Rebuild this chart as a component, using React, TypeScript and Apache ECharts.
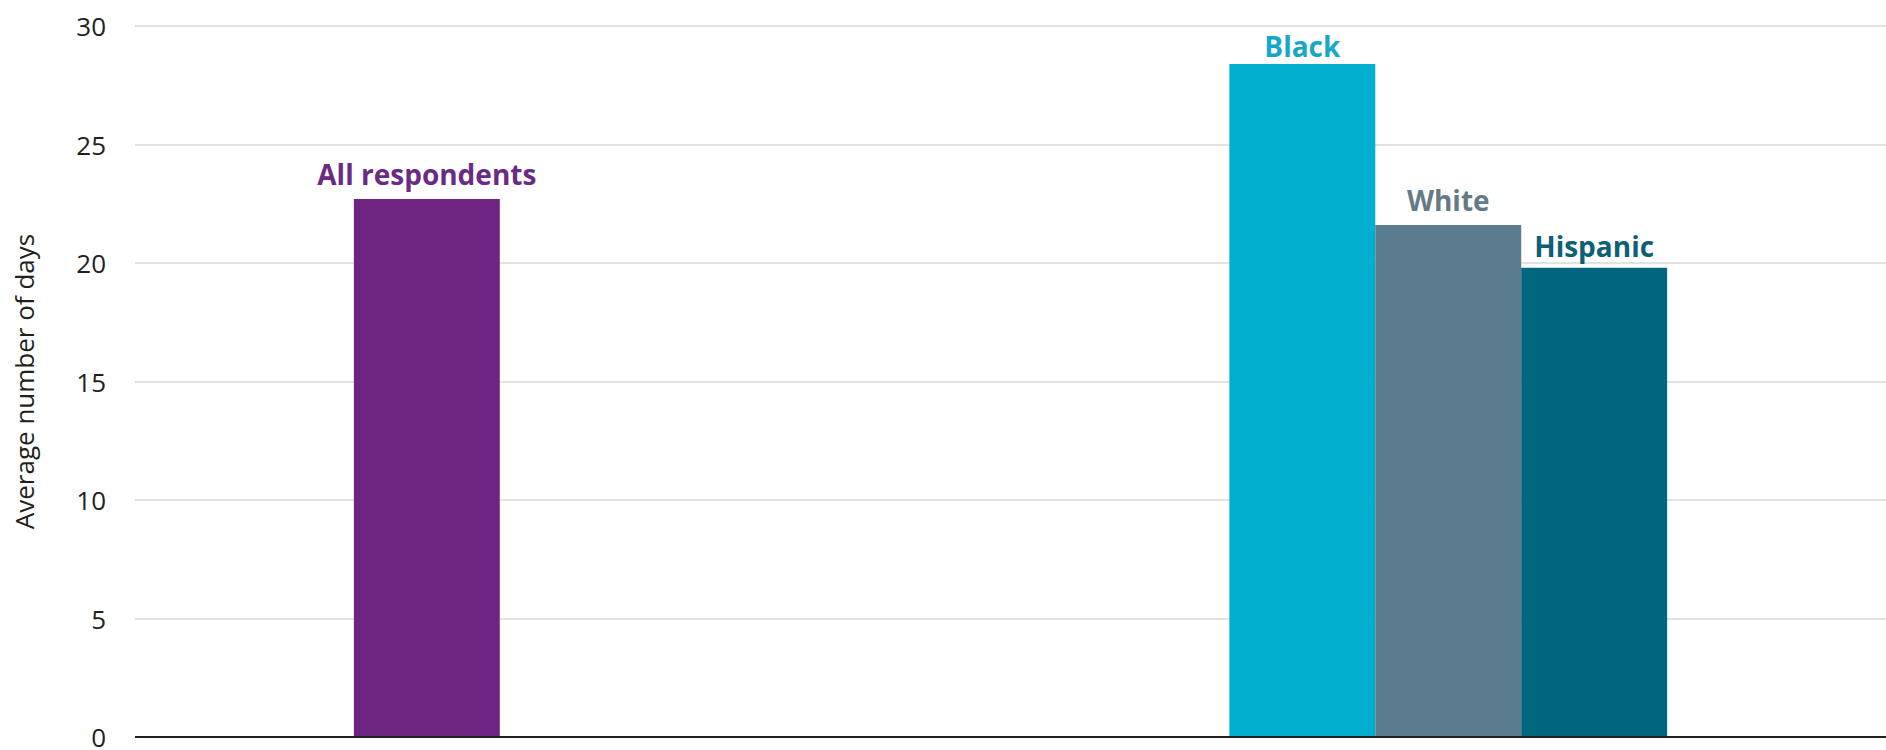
import React, { useEffect, useRef } from "react";
import * as echarts from "echarts";

// Slots along the x axis (13 positions; bars sit on slots 2, 8, 9, 10)
const categories = ["", "", "All respondents", "", "", "", "", "", "Black", "White", "Hispanic", "", ""];
const values: (number | null)[] = [null, null, 22.7, null, null, null, null, null, 28.4, 21.6, 19.8, null, null];
const yTicks = [0, 5, 10, 15, 20, 25, 30];
const yAxisName = "Average number of days";

// styling per group
const barColors: Record<string, string> = {
  "All respondents": "#6d2483",
  Black: "#00afd0",
  White: "#5b7b8e",
  Hispanic: "#006780",
};
const labelColors: Record<string, string> = {
  "All respondents": "#6b2a84",
  Black: "#18a7c8",
  White: "#657a87",
  Hispanic: "#0e6077",
};
const labelDistances: Record<string, number> = {
  "All respondents": 11,
  Black: 4,
  White: 11,
  Hispanic: 8,
};

export default function App() {
  const ref = useRef<HTMLDivElement>(null);
  useEffect(() => {
    document.body.style.margin = "0";
    if (!ref.current) return;
    const chart = echarts.init(ref.current, null, { renderer: "svg" });
    const font = "'Open Sans', 'Noto Sans', sans-serif";
    chart.setOption({
      animation: false,
      grid: { left: 135, right: -7, top: 26, bottom: 9, containLabel: false },
      xAxis: {
        type: "category",
        data: categories,
        boundaryGap: false,
        axisLine: { show: false },
        axisTick: { show: false },
        axisLabel: { show: false },
        splitLine: { show: false },
      },
      yAxis: {
        type: "value",
        min: yTicks[0],
        max: yTicks[yTicks.length - 1],
        interval: 5,
        name: yAxisName,
        nameLocation: "middle",
        nameGap: 98,
        nameTextStyle: { fontFamily: font, fontSize: 26, color: "#231f20" },
        axisLine: { show: false },
        axisTick: { show: false },
        axisLabel: { fontFamily: font, fontSize: 26, color: "#231f20", margin: 29 },
        splitLine: { lineStyle: { color: "#d9d9d9", width: 1.5 } },
      },
      series: [
        {
          type: "bar",
          barWidth: "100%",
          data: values.map((v, i) => {
            const name = categories[i];
            if (v == null) return null;
            return {
              value: v,
              itemStyle: { color: barColors[name] },
              label: {
                show: true,
                position: "top",
                distance: labelDistances[name],
                formatter: name,
                color: labelColors[name],
                fontFamily: font,
                fontWeight: "bold",
                fontSize: 28,
              },
            };
          }),
        },
        {
          type: "line",
          data: [],
          markLine: {
            silent: true,
            symbol: "none",
            label: { show: false },
            lineStyle: { color: "#231f20", width: 2, type: "solid" },
            data: [{ yAxis: 0 }],
          },
        },
      ],
    });
    return () => chart.dispose();
  }, []);
  return <div ref={ref} style={{ width: 1886, height: 750 }} />;
}
